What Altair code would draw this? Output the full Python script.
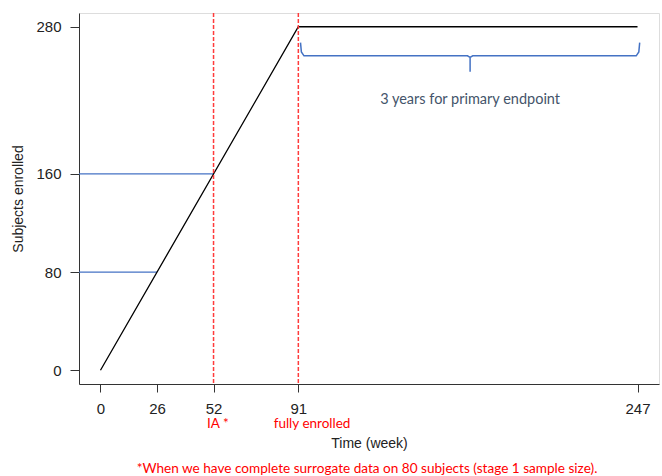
import altair as alt
import pandas as pd

# ---- data ----
weeks = [0, 91, 247]
enrolled = [0, 280, 280]

ref_level = [80, 160]
ref_until_week = [26, 52]

milestone_week = [52, 91]
milestone_label = ["IA *", "fully enrolled"]
milestone_label_week = [54, 97.3]

x_ticks = [0, 26, 52, 91, 247]
y_ticks = [0, 80, 160, 280]

brace_x = [92, 92.4, 93.6, 168.8, 170, 170, 170, 171.2, 246.4, 247.6, 248]
brace_y = [267, 259.5, 256.3, 256.3, 255, 243.3, 255, 256.3, 256.3, 259.5, 267]

brace_text = ["3 years for primary endpoint"]
brace_text_x = [170]
brace_text_y = [220]

footnote = ["*When we have complete surrogate data on 80 subjects (stage 1 sample size)."]

W, H = 580, 371
XDOM = [-9.88, 256.88]
YDOM = [-11.2, 291.2]

xs = alt.Scale(domain=XDOM, nice=False, zero=False)
ys = alt.Scale(domain=YDOM, nice=False, zero=False)

line_df = pd.DataFrame({"week": weeks, "n": enrolled})
ref_df = pd.DataFrame({"lvl": ref_level, "until": ref_until_week})
ms_df = pd.DataFrame({"week": milestone_week})
ml_df = pd.DataFrame({"lw": milestone_label_week, "label": milestone_label})
brace_df = pd.DataFrame({"bx": brace_x, "by": brace_y, "o": list(range(len(brace_x)))})
bt_df = pd.DataFrame({"t": brace_text, "x": brace_text_x, "y": brace_text_y})
fn_df = pd.DataFrame({"t": footnote})

AX_FONT = "Liberation Sans"
NOTE_FONT = "Lato"
RED = "#FF3B3B"

base_line = alt.Chart(line_df).mark_line(color="black", strokeWidth=1.3).encode(
    x=alt.X("week:Q", scale=xs,
            axis=alt.Axis(values=x_ticks, title="Time (week)", grid=False,
                          tickSize=8, labelPadding=9, labelFontSize=15, labelFont=AX_FONT,
                          labelColor="#222", domainColor="#333", tickColor="#333",
                          titleFont=AX_FONT, titleFontSize=14, titleFontWeight="normal",
                          titleColor="#222", titleBaseline="middle", titleY=59,
                          labelFlush=False)),
    y=alt.Y("n:Q", scale=ys,
            axis=alt.Axis(values=y_ticks, title="Subjects enrolled", grid=False,
                          tickSize=9, labelPadding=9, labelFontSize=15, labelFont=AX_FONT,
                          labelColor="#222", domainColor="#333", tickColor="#333",
                          titleFont=AX_FONT, titleFontSize=14, titleFontWeight="normal",
                          titleColor="#222", titleBaseline="middle", titleX=-61,
                          labelFlush=False)),
)

ref_rules = alt.Chart(ref_df).mark_rule(color="#4472C4", strokeWidth=1.2).encode(
    x=alt.X("until:Q", scale=xs),
    x2=alt.value(0),
    y=alt.Y("lvl:Q", scale=ys),
)

vlines = alt.Chart(ms_df).mark_rule(color=RED, strokeWidth=1.5, strokeDash=[4, 2]).encode(
    x=alt.X("week:Q", scale=xs),
    y=alt.value(0),
    y2=alt.value(H),
)

ms_text = alt.Chart(ml_df).mark_text(color="#FF0000", font=NOTE_FONT, fontSize=13.5,
                                     baseline="alphabetic", align="center").encode(
    x=alt.X("lw:Q", scale=xs),
    y=alt.value(H + 44),
    text="label:N",
)

brace = alt.Chart(brace_df).mark_line(color="#4472C4", strokeWidth=1.5).encode(
    x=alt.X("bx:Q", scale=xs),
    y=alt.Y("by:Q", scale=ys),
    order="o:Q",
)

brace_label = alt.Chart(bt_df).mark_text(color="#44546A", font=NOTE_FONT, fontSize=14.5,
                                         baseline="middle", align="center").encode(
    x=alt.X("x:Q", scale=xs),
    y=alt.Y("y:Q", scale=ys),
    text="t:N",
)

fn_text = alt.Chart(fn_df).mark_text(color="#FF0000", font=NOTE_FONT, fontSize=13.6,
                                     baseline="alphabetic", align="center").encode(
    x=alt.value(288),
    y=alt.value(H + 89),
    text="t:N",
)

chart = alt.layer(ref_rules, base_line, vlines, brace, brace_label, ms_text, fn_text).properties(
    width=W, height=H,
    autosize=alt.AutoSizeParams(type="none"),
    padding={"left": 79, "top": 13, "right": 3, "bottom": 92},
).configure_view(stroke="#333", strokeWidth=1).configure(background="white")

chart.save("out.html", embed_options={"renderer": "svg", "actions": False})
